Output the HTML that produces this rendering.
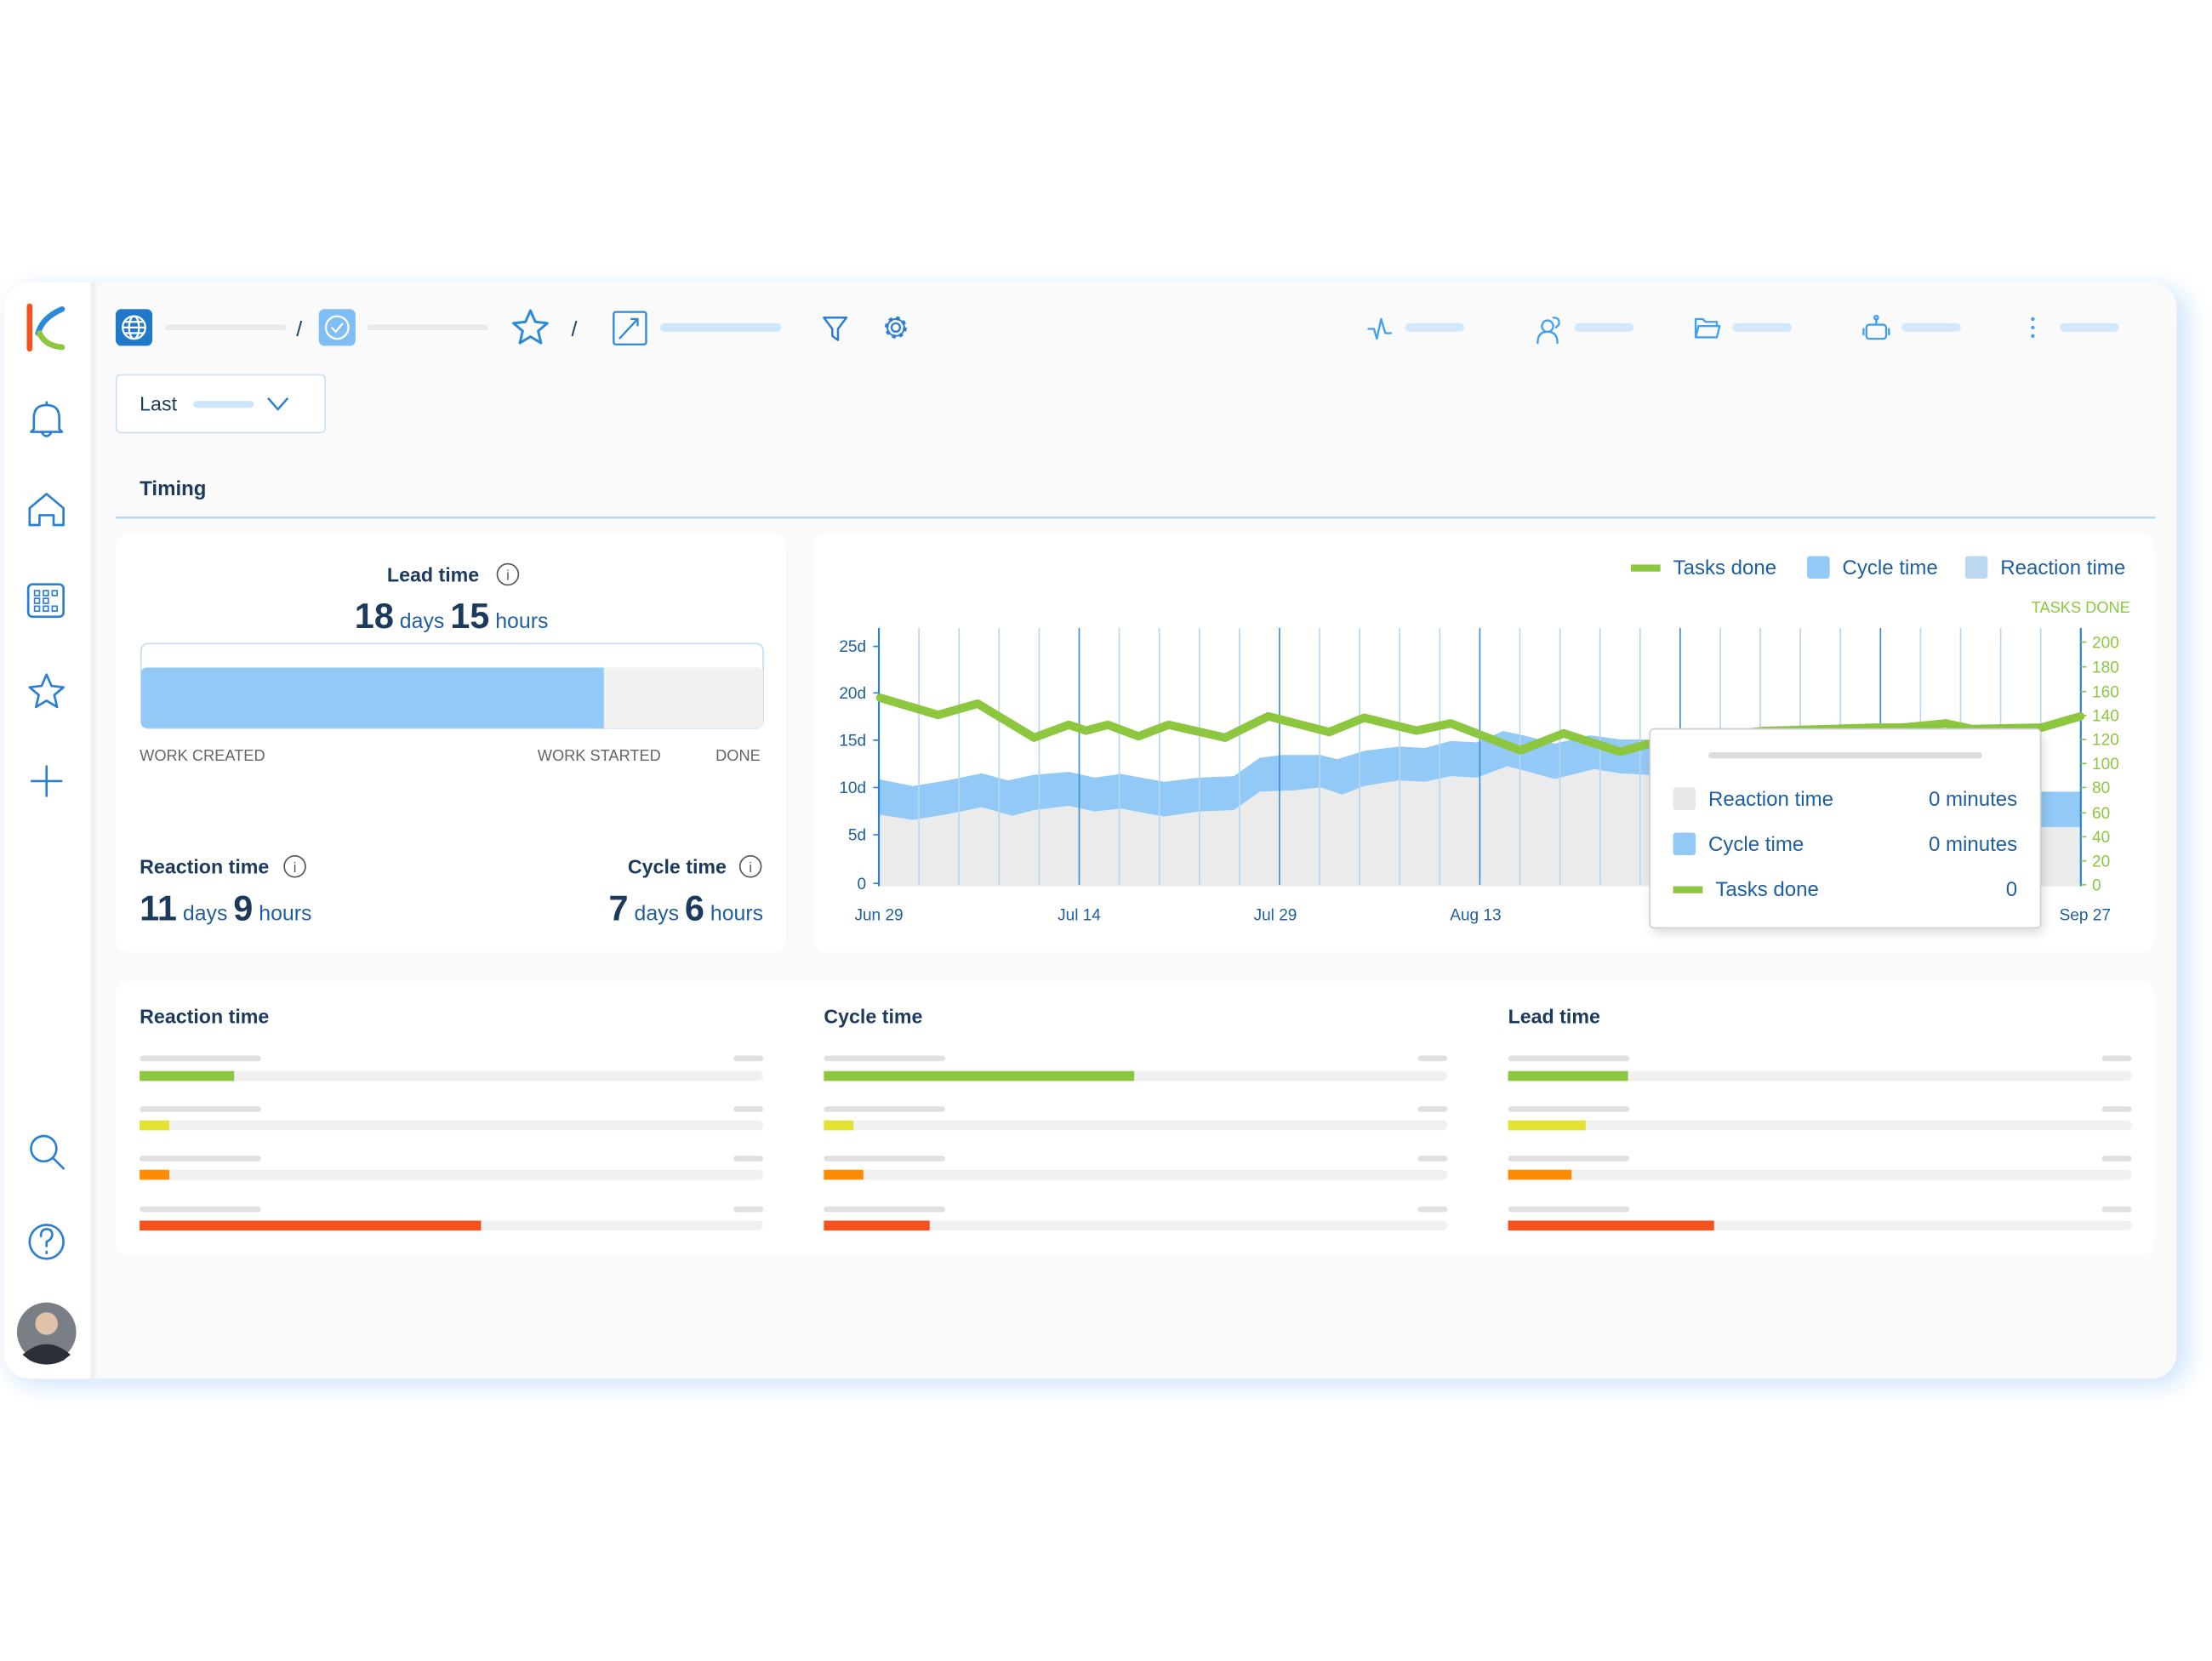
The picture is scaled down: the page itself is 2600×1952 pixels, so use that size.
<!DOCTYPE html>
<html><head><meta charset="utf-8"><style>
html,body{margin:0;padding:0;background:#fff;width:2600px;height:1952px;overflow:hidden}
svg{display:block}
text{font-family:"Liberation Sans",sans-serif}
</style></head><body>
<svg width="2600" height="1952" viewBox="0 0 1568 1177" xmlns="http://www.w3.org/2000/svg">
<defs>
<filter id="sh" x="-5%" y="-10%" width="110%" height="120%"><feGaussianBlur stdDeviation="8"/></filter>
<filter id="sh2" x="-20%" y="-20%" width="140%" height="140%"><feGaussianBlur stdDeviation="4"/></filter>
<clipPath id="plot"><rect x="623" y="440" width="852" height="188"/></clipPath>
</defs>
<rect width="1568" height="1177" fill="#fff"/>
<rect x="6" y="204" width="1545" height="778" rx="20" fill="#cfe5fb" filter="url(#sh)"/>
<rect x="3" y="200" width="1540" height="777" rx="18" fill="#fafafa"/>
<rect x="3" y="200" width="63" height="777" rx="18" fill="#fff"/>
<rect x="40" y="200" width="26" height="777" fill="#fff"/>
<rect x="64" y="200" width="4" height="777" fill="#eeeeee" opacity="0.8"/>
<path d="M21 217 L21 247" stroke="#f4511e" stroke-width="4" stroke-linecap="round"/>
<path d="M44 219 Q30 225 27 236" stroke="#2a8ad8" stroke-width="4" fill="none" stroke-linecap="round"/>
<path d="M28 236 Q32 245 44 246" stroke="#8dc63f" stroke-width="4" fill="none" stroke-linecap="round"/>
<g stroke="#2a7fd4" stroke-width="1.6" fill="none" stroke-linecap="round" stroke-linejoin="round">
<path d="M24 304 L24 296 Q24 287 33 287 Q42 287 42 296 L42 304 L44 306 L22 306 Z M30 307 Q33 311 36 307 M33 285 L33 287"/>
<path d="M21 372 L21 360 L33 350 L45 360 L45 372 L38 372 L38 365 L28 365 L28 372 Z"/>
<rect x="20" y="414" width="25" height="23" rx="3"/>
</g>
<g stroke="#2a7fd4" stroke-width="1" fill="none">
<rect x="24.5" y="418.5" width="3.5" height="3.5"/><rect x="30.75" y="418.5" width="3.5" height="3.5"/><rect x="37" y="418.5" width="3.5" height="3.5"/>
<rect x="24.5" y="424" width="3.5" height="3.5"/><rect x="30.75" y="424" width="3.5" height="3.5"/>
<rect x="24.5" y="429.5" width="3.5" height="3.5"/><rect x="30.75" y="429.5" width="3.5" height="3.5"/><rect x="37" y="429.5" width="3.5" height="3.5"/>
</g>
<g stroke="#2a7fd4" stroke-width="1.6" fill="none" stroke-linecap="round" stroke-linejoin="round">
<path d="M33 478 L36.5 486 L45 487 L38.5 492.5 L40.5 501 L33 496.5 L25.5 501 L27.5 492.5 L21 487 L29.5 486 Z"/>
<path d="M33 543 L33 564 M22.5 553.5 L43.5 553.5"/>
<circle cx="31" cy="814" r="9"/><path d="M38 821 L45 828"/>
<circle cx="33" cy="880" r="12"/><path d="M29 876 Q29 871 33 871 Q37 871 37 875 Q37 878 33 880 L33 883 M33 887 L33 888"/>
</g>
<circle cx="33" cy="944" r="21" fill="#7a7f86"/>
<circle cx="33" cy="938" r="8" fill="#e0c2a8"/>
<path d="M16 960 Q33 945 50 960 L45 964 Q33 970 21 964Z" fill="#2b2f36"/>
<rect x="82" y="219" width="26" height="26" rx="4" fill="#1f78c8"/>
<g stroke="#fff" stroke-width="1.4" fill="none"><circle cx="95" cy="232" r="8"/><ellipse cx="95" cy="232" rx="3.5" ry="8"/><path d="M87 232h16M88.5 228h13M88.5 236h13"/></g>
<rect x="117" y="230" width="86" height="4" rx="2" fill="#eaeaea"/>
<text x="210" y="238" font-size="15" fill="#1b3a5c">/</text>
<rect x="226" y="219" width="26" height="26" rx="4" fill="#7fbef5"/>
<circle cx="239" cy="232" r="8" stroke="#fff" stroke-width="1.4" fill="none"/><path d="M235 232 L238 235 L243 229" stroke="#fff" stroke-width="1.4" fill="none"/>
<rect x="260" y="230" width="86" height="4" rx="2" fill="#eaeaea"/>
<path d="M376 220 L379.5 228 L388 229 L381.5 234.5 L383.5 243 L376 238.5 L368.5 243 L370.5 234.5 L364 229 L372.5 228 Z" stroke="#2a8ad8" stroke-width="1.8" fill="none" stroke-linejoin="round"/>
<text x="405" y="238" font-size="15" fill="#1b3a5c">/</text>
<rect x="435" y="221" width="23" height="23" rx="1.5" stroke="#2a8ad8" stroke-width="1.4" fill="none"/>
<path d="M439 240 L452 226 M447 226 L452 226 L452 231" stroke="#2a8ad8" stroke-width="1.4" fill="none"/>
<rect x="468" y="229" width="86" height="6" rx="3" fill="#cfe6fb"/>
<path d="M584 225 L600 225 L594 233 L594 241 L590 238 L590 233 Z" stroke="#2a7fd4" stroke-width="1.5" fill="none" stroke-linejoin="round"/>
<circle cx="635" cy="232" r="3" stroke="#2a7fd4" stroke-width="1.4" fill="none"/>
<circle cx="635" cy="232" r="6.5" stroke="#2a7fd4" stroke-width="2.6" fill="none" stroke-dasharray="2.5 2.6"/>
<circle cx="635" cy="232" r="6" stroke="#2a7fd4" stroke-width="1.2" fill="none"/>
<g stroke="#3f9ff0" stroke-width="1.4" fill="none" stroke-linecap="round" stroke-linejoin="round">
<path d="M970 233 L974 233 L976 240 L979 226 L982 236 L986 236"/>
<circle cx="1097" cy="231" r="4"/><path d="M1090 243 Q1090 235 1097 235 Q1104 235 1104 243 M1101 225 Q1106 225 1105 230 L1103 232"/>
<path d="M1202 239 L1202 226 L1207 226 L1209 228 L1217 228 L1217 231 M1202 239 L1204 231 L1219 231 L1217 239 Z"/>
<rect x="1323" y="230" width="14" height="10" rx="2"/><path d="M1330 230 L1330 226"/><circle cx="1330" cy="225" r="1.3"/><path d="M1321 233 L1321 237 M1339 233 L1339 237"/>
</g>
<circle cx="1441" cy="226" r="1.3" fill="#3f9ff0"/><circle cx="1441" cy="232" r="1.3" fill="#3f9ff0"/><circle cx="1441" cy="238" r="1.3" fill="#3f9ff0"/>
<rect x="996" y="229" width="42" height="6" rx="3" fill="#d3e8fb"/>
<rect x="1116" y="229" width="42" height="6" rx="3" fill="#d3e8fb"/>
<rect x="1228" y="229" width="42" height="6" rx="3" fill="#d3e8fb"/>
<rect x="1348" y="229" width="42" height="6" rx="3" fill="#d3e8fb"/>
<rect x="1460" y="229" width="42" height="6" rx="3" fill="#d3e8fb"/>
<rect x="82.5" y="265.5" width="148" height="41" rx="3" fill="#fff" stroke="#c9e0f5"/>
<text x="99" y="291" font-size="14" fill="#1b3a5c">Last</text>
<rect x="137" y="284" width="43" height="5" rx="2.5" fill="#cfe6fb"/>
<path d="M190 282 L197 290 L204 282" stroke="#2a7fd4" stroke-width="1.5" fill="none"/>
<text x="99" y="351" font-size="14.5" font-weight="bold" fill="#1b3a5c">Timing</text>
<rect x="82" y="366" width="1446" height="1.5" fill="#b9d6ef"/>
<rect x="82" y="378" width="475" height="297" rx="10" fill="#fff"/>
<text x="307" y="412" font-size="14" font-weight="bold" fill="#1b3a5c" text-anchor="middle">Lead time</text>
<circle cx="360" cy="407" r="7.5" stroke="#555" stroke-width="1" fill="none"/><text x="360" y="411" font-size="10" fill="#555" text-anchor="middle">i</text>
<text x="320" y="445" text-anchor="middle" fill="#1b3a5c"><tspan font-size="25" font-weight="bold">18</tspan><tspan font-size="15" fill="#1f5fa0"> days </tspan><tspan font-size="25" font-weight="bold">15</tspan><tspan font-size="15" fill="#1f5fa0"> hours</tspan></text>
<rect x="100" y="456" width="441" height="60" rx="5" fill="#fff" stroke="#c5ddf3"/>
<rect x="100" y="473" width="441" height="43" rx="4" fill="#f1f1f1"/>
<rect x="100" y="473" width="328" height="43" rx="4" fill="#92c9f7"/>
<rect x="420" y="473" width="8" height="43" fill="#92c9f7"/>
<text x="99" y="539" font-size="11" fill="#666">WORK CREATED</text>
<text x="381" y="539" font-size="11" fill="#666">WORK STARTED</text>
<text x="539" y="539" font-size="11" fill="#666" text-anchor="end">DONE</text>
<text x="99" y="619" font-size="14" font-weight="bold" fill="#1b3a5c">Reaction time</text>
<circle cx="209" cy="614" r="7.5" stroke="#555" stroke-width="1" fill="none"/><text x="209" y="618" font-size="10" fill="#555" text-anchor="middle">i</text>
<text x="99" y="652" fill="#1b3a5c"><tspan font-size="25" font-weight="bold">11</tspan><tspan font-size="15" fill="#1f5fa0"> days </tspan><tspan font-size="25" font-weight="bold">9</tspan><tspan font-size="15" fill="#1f5fa0"> hours</tspan></text>
<text x="515" y="619" font-size="14" font-weight="bold" fill="#1b3a5c" text-anchor="end">Cycle time</text>
<circle cx="532" cy="614" r="7.5" stroke="#555" stroke-width="1" fill="none"/><text x="532" y="618" font-size="10" fill="#555" text-anchor="middle">i</text>
<text x="541" y="652" fill="#1b3a5c" text-anchor="end"><tspan font-size="25" font-weight="bold">7</tspan><tspan font-size="15" fill="#1f5fa0"> days </tspan><tspan font-size="25" font-weight="bold">6</tspan><tspan font-size="15" fill="#1f5fa0"> hours</tspan></text>
<rect x="577" y="378" width="950" height="297" rx="10" fill="#fff"/>
<rect x="1156" y="400" width="21" height="5" fill="#8dc63f"/>
<text x="1186" y="407" font-size="14.5" fill="#1f5fa0">Tasks done</text>
<rect x="1281" y="394" width="16" height="16" rx="2" fill="#92c9f7"/>
<text x="1306" y="407" font-size="14.5" fill="#1f5fa0">Cycle time</text>
<rect x="1393" y="394" width="16" height="16" rx="2" fill="#bcd8f0"/>
<text x="1418" y="407" font-size="14.5" fill="#1f5fa0">Reaction time</text>
<text x="1510" y="434" font-size="11" fill="#8dc63f" text-anchor="end">TASKS DONE</text>
<g clip-path="url(#plot)" stroke-linejoin="round">
<path fill="#ebebeb" d="M622 577 L647 581 L671.5 577 L696 572 L717.6 578 L733 574 L757.6 571 L776 575 L794.6 573 L825 578.6 L850 575 L874.6 574 L893 561 L917.7 560 L936 558 L951.5 563 L967 557 L991.5 553 L1010 554 L1028.4 550 L1047 551 L1068.4 543 L1084 547 L1102 552 L1130 545 L1148.5 548 L1167 549 L1250 570 L1447 586 L1476 586 L1476 628 L622 628 Z"/>
<path fill="#92c9f7" d="M622 552 L647 557 L671.5 553 L696 548 L714.6 553 L733 549 L757.6 547 L776 551 L794.6 548.4 L825 554 L850 551 L874.6 550 L893 537 L908 535 L936 535 L948 538 L967 532 L991.5 529 L1010 530 L1028.4 525 L1047 526 L1065.4 518 L1084 522 L1102 527 L1127 521 L1148.5 524 L1167 524 L1250 548 L1447 561 L1476 561 L1476 586 L1447 586 L1250 570 L1167 549 L1148.5 548 L1130 545 L1102 552 L1084 547 L1068.4 543 L1047 551 L1028.4 550 L1010 554 L991.5 553 L967 557 L951.5 563 L936 558 L917.7 560 L893 561 L874.6 574 L850 575 L825 578.6 L794.6 573 L776 575 L757.6 571 L733 574 L717.6 578 L696 572 L671.5 577 L647 581 L622 577 Z"/>
</g>
<g stroke-width="1">
<path stroke="#b9d6ef" d="M651.4 445V627M679.8 445V627M708.2 445V627M736.6 445V627M793.4 445V627M821.8 445V627M850.2 445V627M878.6 445V627M935.4 445V627M963.8 445V627M992.2 445V627M1020.6 445V627M1077.4 445V627M1105.8 445V627M1134.2 445V627M1162.6 445V627M1219.4 445V627M1247.8 445V627M1276.2 445V627M1304.6 445V627M1361.4 445V627M1389.8 445V627M1418.2 445V627M1446.6 445V627"/>
<path stroke="#3a8fd6" d="M765 445V627M907 445V627M1049 445V627M1191 445V627M1333 445V627"/>
<path stroke="#2a7fd4" stroke-width="1.3" d="M623 445V628M1475 445V628"/>
<path stroke="#2a7fd4" d="M619 458h4M619 491h4M619 524.5h4M619 558h4M619 591.5h4M619 626h4"/>
<path stroke="#8dc63f" d="M1475 455h4M1475 472.5h4M1475 490h4M1475 507h4M1475 524h4M1475 541h4M1475 558h4M1475 576h4M1475 593h4M1475 610h4M1475 627h4"/>
</g>
<polyline fill="none" stroke="#8dc63f" stroke-width="6" stroke-linejoin="round" stroke-linecap="round" points="624,494.5 665,506.6 693,498.6 733,522.7 757.6,513.6 770,517.7 785.3,513.6 807,521.7 828.4,513.6 868.4,522.7 899,507.6 942.3,518.7 967,508.6 1004,517.7 1028.4,512.6 1077.7,531.7 1108.4,519.7 1148.5,532.7 1170,526.7 1250,518 1330,515.6 1348.5,515.6 1379.3,512.6 1397.7,516.6 1447,515.6 1474.7,507.6"/>
<g font-size="11.5" fill="#1f5fa0" text-anchor="end">
<text x="614" y="462">25d</text><text x="614" y="495">20d</text><text x="614" y="528.5">15d</text><text x="614" y="562">10d</text><text x="614" y="595.5">5d</text><text x="614" y="630">0</text>
</g>
<g font-size="11.5" fill="#8dc63f">
<text x="1483" y="459">200</text><text x="1483" y="476.5">180</text><text x="1483" y="494">160</text><text x="1483" y="511">140</text><text x="1483" y="528">120</text><text x="1483" y="545">100</text><text x="1483" y="562">80</text><text x="1483" y="580">60</text><text x="1483" y="597">40</text><text x="1483" y="614">20</text><text x="1483" y="631">0</text>
</g>
<g font-size="11.5" fill="#1f5fa0" text-anchor="middle">
<text x="623" y="652">Jun 29</text><text x="765" y="652">Jul 14</text><text x="904" y="652">Jul 29</text><text x="1046" y="652">Aug 13</text><text x="1478" y="652">Sep 27</text>
</g>
<rect x="1171" y="520" width="277" height="141" rx="3" fill="#000" opacity="0.15" filter="url(#sh2)"/>
<rect x="1169.5" y="516.5" width="277" height="141" rx="3" fill="#fff" stroke="#d0d0d0"/>
<rect x="1211" y="533" width="194" height="4.5" rx="2.2" fill="#dcdcdc"/>
<rect x="1186" y="558" width="16" height="16" rx="2" fill="#e8e8e8"/>
<text x="1211" y="571" font-size="14.5" fill="#1f5fa0">Reaction time</text>
<text x="1430" y="571" font-size="14.5" fill="#1f5fa0" text-anchor="end">0 minutes</text>
<rect x="1186" y="590" width="16" height="16" rx="2" fill="#92c9f7"/>
<text x="1211" y="603" font-size="14.5" fill="#1f5fa0">Cycle time</text>
<text x="1430" y="603" font-size="14.5" fill="#1f5fa0" text-anchor="end">0 minutes</text>
<rect x="1186" y="628" width="21" height="5" fill="#8dc63f"/>
<text x="1216" y="635" font-size="14.5" fill="#1f5fa0">Tasks done</text>
<text x="1430" y="635" font-size="14.5" fill="#1f5fa0" text-anchor="end">0</text>
<rect x="82" y="695" width="1445" height="195" rx="10" fill="#fff"/>
<g font-size="14" font-weight="bold" fill="#1b3a5c">
<text x="99" y="725">Reaction time</text><text x="584" y="725">Cycle time</text><text x="1069" y="725">Lead time</text>
</g>
<g fill="#e0e0e0">
<rect x="99" y="748" width="86" height="4" rx="2"/><rect x="520" y="748" width="21" height="4" rx="2"/>
<rect x="99" y="784" width="86" height="4" rx="2"/><rect x="520" y="784" width="21" height="4" rx="2"/>
<rect x="99" y="819" width="86" height="4" rx="2"/><rect x="520" y="819" width="21" height="4" rx="2"/>
<rect x="99" y="855" width="86" height="4" rx="2"/><rect x="520" y="855" width="21" height="4" rx="2"/>
<rect x="584" y="748" width="86" height="4" rx="2"/><rect x="1005" y="748" width="21" height="4" rx="2"/>
<rect x="584" y="784" width="86" height="4" rx="2"/><rect x="1005" y="784" width="21" height="4" rx="2"/>
<rect x="584" y="819" width="86" height="4" rx="2"/><rect x="1005" y="819" width="21" height="4" rx="2"/>
<rect x="584" y="855" width="86" height="4" rx="2"/><rect x="1005" y="855" width="21" height="4" rx="2"/>
<rect x="1069" y="748" width="86" height="4" rx="2"/><rect x="1490" y="748" width="21" height="4" rx="2"/>
<rect x="1069" y="784" width="86" height="4" rx="2"/><rect x="1490" y="784" width="21" height="4" rx="2"/>
<rect x="1069" y="819" width="86" height="4" rx="2"/><rect x="1490" y="819" width="21" height="4" rx="2"/>
<rect x="1069" y="855" width="86" height="4" rx="2"/><rect x="1490" y="855" width="21" height="4" rx="2"/>
</g>
<g fill="#f0f0f0">
<rect x="99" y="759" width="442" height="7" rx="3.5"/><rect x="99" y="794" width="442" height="7" rx="3.5"/><rect x="99" y="829" width="442" height="7" rx="3.5"/><rect x="99" y="865" width="442" height="7" rx="3.5"/>
<rect x="584" y="759" width="442" height="7" rx="3.5"/><rect x="584" y="794" width="442" height="7" rx="3.5"/><rect x="584" y="829" width="442" height="7" rx="3.5"/><rect x="584" y="865" width="442" height="7" rx="3.5"/>
<rect x="1069" y="759" width="442" height="7" rx="3.5"/><rect x="1069" y="794" width="442" height="7" rx="3.5"/><rect x="1069" y="829" width="442" height="7" rx="3.5"/><rect x="1069" y="865" width="442" height="7" rx="3.5"/>
</g>
<rect x="99" y="759" width="67" height="7" fill="#8dc63f"/><rect x="99" y="794" width="21" height="7" fill="#e2e232"/><rect x="99" y="829" width="21" height="7" fill="#ff8c00"/><rect x="99" y="865" width="242" height="7" fill="#f4511e"/>
<rect x="584" y="759" width="220" height="7" fill="#8dc63f"/><rect x="584" y="794" width="21" height="7" fill="#e2e232"/><rect x="584" y="829" width="28" height="7" fill="#ff8c00"/><rect x="584" y="865" width="75" height="7" fill="#f4511e"/>
<rect x="1069" y="759" width="85" height="7" fill="#8dc63f"/><rect x="1069" y="794" width="55" height="7" fill="#e2e232"/><rect x="1069" y="829" width="45" height="7" fill="#ff8c00"/><rect x="1069" y="865" width="146" height="7" fill="#f4511e"/>
</svg>
</body></html>
